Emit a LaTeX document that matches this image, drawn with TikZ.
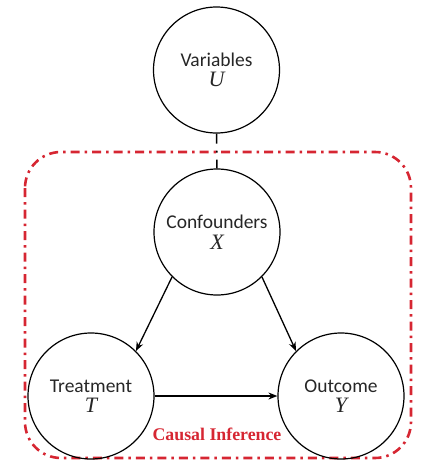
\documentclass[tikz,border=0pt]{standalone}
\usepackage{fontspec}
\setmainfont{Carlito}
\newfontfamily\capfont{Liberation Serif}
\usetikzlibrary{arrows.meta}
\definecolor{cired}{RGB}{214,38,50}
\newcommand{\mv}[1]{{\capfont\itshape\fontsize{22}{22}\selectfont #1}}
\begin{document}
\begin{tikzpicture}[x=1pt,y=-1pt,
  circ/.style={draw, circle, minimum size=126pt, inner sep=0pt, line width=1.2pt,
    align=center, font=\fontsize{19.5}{21.5}\selectfont, text=black!85},
  arr/.style={line width=1.3pt, -{Stealth[length=9pt,width=7pt]}},
  frame/.style={draw=cired, line width=2.6pt, rounded corners=36pt,
    dash pattern=on 9pt off 5pt on 2.5pt off 5pt},
  link/.style={line width=1.5pt, dash pattern=on 10pt off 7pt on 2pt off 7pt}]
\useasboundingbox (0,0) rectangle (423,461);
\draw[frame] (25,152) rectangle (411,458);
\node[circ] (U) at (216.5,70) {Variables\\[-1pt]\mv{U}};
\node[circ] (X) at (217,232) {Confounders\\[-1pt]\mv{X}};
\node[circ] (T) at (91,396) {Treatment\\[-1pt]\mv{T}};
\node[circ] (Y) at (341,396) {Outcome\\[-1pt]\mv{Y}};
\draw[link] (U.south) -- (X.north);
\draw[arr] (X.225) -- (T.45);
\draw[arr] (X.315) -- (Y.135);
\draw[arr] (T.east) -- (Y.west);
\node[text=cired, font=\capfont\bfseries\fontsize{17.8}{20}\selectfont] (ci) at (217,434) {Causal Inference};
\end{tikzpicture}
\end{document}
